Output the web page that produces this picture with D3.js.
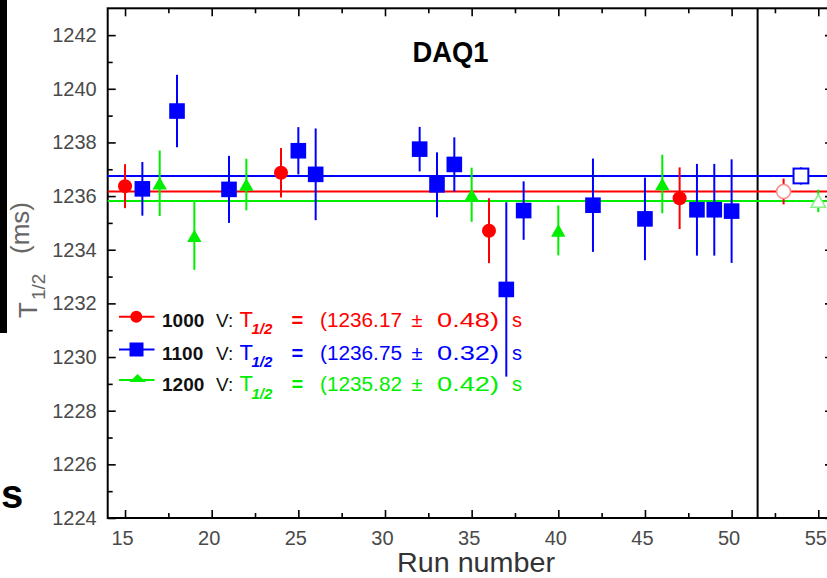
<!DOCTYPE html>
<html>
<head>
<meta charset="utf-8">
<script src="https://cdn.jsdelivr.net/npm/d3@7"></script>
<style>
  html, body { margin: 0; padding: 0; background: #fff; }
  svg { display: block; }
  text { font-family: "Liberation Sans", Arial, sans-serif; }
</style>
</head>
<body>
<svg id="chart" width="827" height="578"></svg>
<script>
// ---------------- data ----------------
const runs1000 = [15, 24, 36, 47];
const vals1000 = [1236.37, 1236.87, 1234.71, 1235.92];
const errs1000 = [0.82, 0.92, 1.21, 1.15];

const runs1100 = [16, 18, 21, 25, 26, 32, 33, 34, 37, 38, 42, 45, 48, 49, 50];
const vals1100 = [1236.27, 1239.17, 1236.25, 1237.69, 1236.81, 1237.75, 1236.42, 1237.18, 1232.52, 1235.46, 1235.66, 1235.15, 1235.49, 1235.49, 1235.44];
const errs1100 = [1.00, 1.35, 1.25, 0.88, 1.71, 0.83, 1.21, 1.01, 3.25, 1.09, 1.74, 1.54, 1.71, 1.71, 1.93];

const runs1200 = [17, 19, 22, 35, 40, 46];
const vals1200 = [1236.48, 1234.52, 1236.43, 1236.05, 1234.72, 1236.45];
const errs1200 = [1.22, 1.27, 0.96, 1.01, 0.93, 1.09];

// weighted means (open markers in right panel + horizontal lines)
const voltages = ["1000", "1100", "1200"];
const meanRuns = [53, 54, 55];
const meanVals = [1236.17, 1236.75, 1235.82];
const meanErrs = [0.48, 0.32, 0.42];

const xMajorTicks = [15, 20, 25, 30, 35, 40, 45, 50, 55];
const xMinorTicks = [17.5, 22.5, 27.5, 32.5, 37.5, 42.5, 47.5, 52.5];
const yMajorTicks = [1224, 1226, 1228, 1230, 1232, 1234, 1236, 1238, 1240, 1242];
const yMinorTicks = [1225, 1227, 1229, 1231, 1233, 1235, 1237, 1239, 1241];
const separatorRun = 51.5;

// ---------------- layout ----------------
const svg = d3.select("#chart");
const L = 107.7, R = 833, T = 8.3, B = 518;
const x = d3.scaleLinear().domain([14, 55.85]).range([L, R]);
const y = d3.scaleLinear().domain([1224, 1243]).range([B, T]);

const RED = "#ff0000", BLUE = "#0000ff", GREEN = "#00ee00";
const colors = [RED, BLUE, GREEN];
const lightColors = ["#ff8c8c", BLUE, "#8cf08c"];

// left black bar and stray "s" (cropped neighbours)
svg.append("rect").attr("x", 0).attr("y", 0).attr("width", 7).attr("height", 333).attr("fill", "#000");
svg.append("text").attr("x", 1).attr("y", 508).attr("font-size", 40).attr("font-weight", "bold")
  .attr("fill", "#000").text("s");

// ---------------- axes ----------------
function styleAxis(g) {
  g.select(".domain").remove();
  g.selectAll(".tick line").attr("stroke", "#000").attr("stroke-width", 1.6);
}
// bottom
svg.append("g").attr("transform", `translate(0,${B})`)
  .call(d3.axisBottom(x).tickValues(xMinorTicks).tickSize(-5).tickFormat(""))
  .call(styleAxis);
const xb = svg.append("g").attr("transform", `translate(0,${B})`)
  .call(d3.axisBottom(x).tickValues(xMajorTicks).tickSize(-8).tickPadding(13).tickFormat(d3.format("d")))
  .call(styleAxis);
xb.selectAll(".tick text").attr("font-size", 20).attr("fill", "#4a4a4a")
  .attr("font-family", "'Liberation Sans', Arial, sans-serif").attr("dx", -3);
// top
svg.append("g").attr("transform", `translate(0,${T})`)
  .call(d3.axisTop(x).tickValues(xMinorTicks).tickSize(-5).tickFormat(""))
  .call(styleAxis);
svg.append("g").attr("transform", `translate(0,${T})`)
  .call(d3.axisTop(x).tickValues(xMajorTicks).tickSize(-8).tickFormat(""))
  .call(styleAxis);
// left
svg.append("g").attr("transform", `translate(${L},0)`)
  .call(d3.axisLeft(y).tickValues(yMinorTicks).tickSize(-5).tickFormat(""))
  .call(styleAxis);
const yl = svg.append("g").attr("transform", `translate(${L},0)`)
  .call(d3.axisLeft(y).tickValues(yMajorTicks).tickSize(-8).tickPadding(11).tickFormat(d3.format("d")))
  .call(styleAxis);
yl.selectAll(".tick text").attr("font-size", 20).attr("fill", "#4a4a4a")
  .attr("font-family", "'Liberation Sans', Arial, sans-serif");
// right
svg.append("g").attr("transform", `translate(${R},0)`)
  .call(d3.axisRight(y).tickValues(yMajorTicks).tickSize(-8).tickFormat(""))
  .call(styleAxis);

// frame
svg.append("rect").attr("x", L).attr("y", T).attr("width", R - L).attr("height", B - T)
  .attr("fill", "none").attr("stroke", "#000").attr("stroke-width", 2);
// separator
svg.append("line").attr("x1", x(separatorRun)).attr("x2", x(separatorRun))
  .attr("y1", T).attr("y2", B).attr("stroke", "#000").attr("stroke-width", 2);

// axis titles
svg.append("text").attr("x", 476).attr("y", 571.5).attr("text-anchor", "middle")
  .attr("font-size", 27).attr("fill", "#333")
  .attr("textLength", 158).attr("lengthAdjust", "spacingAndGlyphs").text("Run number");

const yt = svg.append("text").attr("transform", "translate(37,318) rotate(-90)")
  .attr("fill", "#666");
yt.append("tspan").attr("x", 0).attr("y", 0).attr("font-size", 26).text("T");
yt.append("tspan").attr("x", 18).attr("y", 8).attr("font-size", 19).text("1/2");
yt.append("tspan").attr("x", 64).attr("y", -8).attr("font-size", 26).text("(ms)");

// title
svg.append("text").attr("x", 450.5).attr("y", 61.5).attr("text-anchor", "middle")
  .attr("font-size", 30).attr("font-weight", "bold").attr("fill", "#000")
  .attr("textLength", 76).attr("lengthAdjust", "spacingAndGlyphs").text("DAQ1");

// ---------------- marks ----------------
const plot = svg.append("g");

// horizontal mean lines
plot.selectAll("line.mean").data(meanVals).join("line").attr("class", "mean")
  .attr("x1", L).attr("x2", R)
  .attr("y1", d => y(d)).attr("y2", d => y(d))
  .attr("stroke", (d, i) => colors[i]).attr("stroke-width", 2);

function toPts(runs, vals, errs) {
  return runs.map((r, i) => ({ r, v: vals[i], e: errs[i] }));
}
const series = [
  { pts: toPts(runs1000, vals1000, errs1000), color: RED, shape: "circle" },
  { pts: toPts(runs1100, vals1100, errs1100), color: BLUE, shape: "square" },
  { pts: toPts(runs1200, vals1200, errs1200), color: GREEN, shape: "triangle" }
];

function drawMarker(g, shape, cx, cy, fill, stroke, sw, scale) {
  const s = scale || 1;
  if (shape === "circle") {
    g.append("circle").attr("cx", cx).attr("cy", cy).attr("r", 7 * s)
      .attr("fill", fill).attr("stroke", stroke).attr("stroke-width", sw);
  } else if (shape === "square") {
    const h = 7.8 * s;
    g.append("rect").attr("x", cx - h).attr("y", cy - h).attr("width", 2 * h).attr("height", 2 * h)
      .attr("fill", fill).attr("stroke", stroke).attr("stroke-width", sw);
  } else {
    const w = 7.2 * s, hh = 6.3 * s;
    g.append("path").attr("d", `M${cx},${cy - hh}L${cx + w},${cy + hh}L${cx - w},${cy + hh}Z`)
      .attr("fill", fill).attr("stroke", stroke).attr("stroke-width", sw);
  }
}

// error bars first
series.forEach(s => {
  plot.selectAll(null).data(s.pts).join("line")
    .attr("x1", d => x(d.r)).attr("x2", d => x(d.r))
    .attr("y1", d => y(d.v + d.e)).attr("y2", d => y(d.v - d.e))
    .attr("stroke", s.color).attr("stroke-width", 2);
});
// mean error bars
plot.selectAll("line.meanerr").data(meanVals).join("line").attr("class", "meanerr")
  .attr("x1", (d, i) => x(meanRuns[i])).attr("x2", (d, i) => x(meanRuns[i]))
  .attr("y1", (d, i) => y(d + meanErrs[i])).attr("y2", (d, i) => y(d - meanErrs[i]))
  .attr("stroke", (d, i) => colors[i]).attr("stroke-width", 2);

// filled markers
series.forEach(s => {
  s.pts.forEach(d => drawMarker(plot, s.shape, x(d.r), y(d.v), s.color, "none", 0));
});
// open markers for the means
const shapes = ["circle", "square", "triangle"];
meanVals.forEach((v, i) => {
  drawMarker(plot, shapes[i], x(meanRuns[i]), y(v), "#fff", lightColors[i], i === 1 ? 2 : 1.6, i === 1 ? 0.95 : 1);
});

// ---------------- legend ----------------
const legLineY = [316.7, 349.5, 380];
const legBase = [326.5, 359.5, 391];
const leg = svg.append("g");
voltages.forEach((vlt, i) => {
  const c = colors[i];
  leg.append("line").attr("x1", 119).attr("x2", 154.5).attr("y1", legLineY[i]).attr("y2", legLineY[i])
    .attr("stroke", c).attr("stroke-width", 2);
  if (i === 0) {
    leg.append("circle").attr("cx", 136.3).attr("cy", legLineY[i]).attr("r", 6).attr("fill", c);
  } else if (i === 1) {
    leg.append("rect").attr("x", 129.5).attr("y", legLineY[i] - 7).attr("width", 14).attr("height", 14).attr("fill", c);
  } else {
    leg.append("path").attr("d", `M137.5,${legLineY[i] - 6}L146,${legLineY[i] + 2}L129.5,${legLineY[i] + 2}Z`).attr("fill", c);
  }
  const b = legBase[i];
  leg.append("text").attr("x", 162).attr("y", b).attr("font-size", 19).attr("font-weight", "bold")
    .attr("fill", "#111").text(vlt);
  leg.append("text").attr("x", 216).attr("y", b).attr("font-size", 19)
    .attr("fill", "#111").text("V:");
  leg.append("text").attr("x", 239.5).attr("y", b).attr("font-size", 22).attr("fill", c).text("T");
  leg.append("text").attr("x", 251.5).attr("y", b + 7.5).attr("font-size", 15)
    .attr("font-weight", "bold").attr("font-style", "italic").attr("fill", c).text("1/2");
  leg.append("text").attr("x", 291.5).attr("y", b).attr("font-size", 20).attr("font-weight", "bold")
    .attr("fill", c).text("=");
  leg.append("text").attr("x", 320).attr("y", b).attr("font-size", 20).attr("fill", c)
    .attr("textLength", 82).attr("lengthAdjust", "spacingAndGlyphs")
    .text("(" + meanVals[i].toFixed(2));
  leg.append("text").attr("x", 411.5).attr("y", b).attr("font-size", 20).attr("fill", c).text("±");
  leg.append("text").attr("x", 437).attr("y", b).attr("font-size", 20).attr("fill", c)
    .attr("textLength", 62).attr("lengthAdjust", "spacingAndGlyphs")
    .text(meanErrs[i].toFixed(2) + ")");
  leg.append("text").attr("x", 512).attr("y", b).attr("font-size", 20).attr("fill", c).text("s");
});
</script>
</body>
</html>
